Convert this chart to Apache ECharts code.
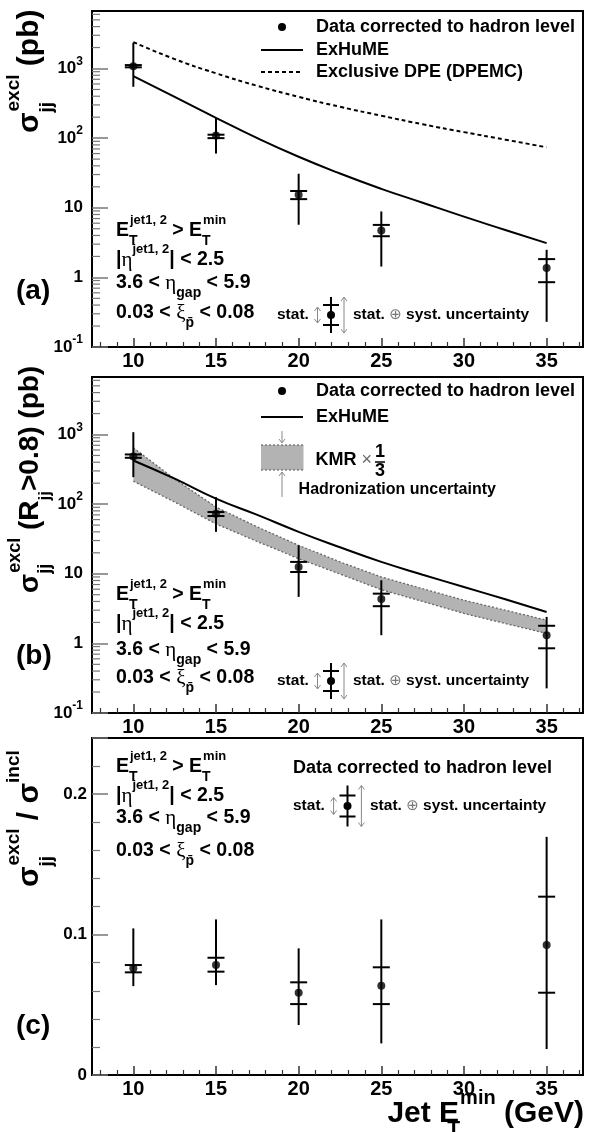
<!DOCTYPE html>
<html><head><meta charset="utf-8">
<script src="https://cdn.jsdelivr.net/npm/echarts@6/dist/echarts.min.js"></script>
<style>html,body{margin:0;padding:0;background:#fff}#c{width:589px;height:1132px}</style>
</head><body><div id="c"></div><script>
// ---------- data ----------
const ET = [10, 15, 20, 25, 35];
// panel (a)
const sigA        = [1080, 109, 15.4, 4.72, 1.36];
const sigAStatLo  = [1040, 100, 13.3, 3.9, 0.853];
const sigAStatHi  = [1120, 112, 17.4, 5.67, 1.83];
const sigATotLo   = [546, 60, 5.7, 1.43, 0.23];
const sigATotHi   = [2340, 195, 30.8, 8.85, 2.49];
// panel (b)
const sigB        = [484, 73, 12.5, 4.35, 1.31];
const sigBStatLo  = [463, 67.5, 10.6, 3.42, 0.85];
const sigBStatHi  = [517, 77, 14.8, 5.18, 1.79];
const sigBTotLo   = [244, 40, 4.65, 1.31, 0.226];
const sigBTotHi   = [1080, 126, 25.6, 8.07, 2.4];
// panel (c)
const ratio        = [0.076, 0.0783, 0.0586, 0.0636, 0.0925];
const ratioStatLo  = [0.0731, 0.0736, 0.0505, 0.0505, 0.0586];
const ratioStatHi  = [0.0783, 0.0835, 0.066, 0.0767, 0.127];
const ratioTotLo   = [0.0633, 0.064, 0.0356, 0.0225, 0.0185];
const ratioTotHi   = [0.1044, 0.1108, 0.0902, 0.1108, 0.1696];
// theory curves
const curveET = [10, 12.5, 15, 17.5, 20, 22.5, 25, 27.5, 30, 32.5, 35];
const exhumeA = [780, 391, 196, 100, 54, 31, 18.7, 11.8, 7.45, 4.8, 3.1];
const dpemcA  = [2400, 1365, 853, 564, 391, 282, 210, 158, 122, 95, 74];
const exhumeB = [424, 232, 120, 70, 40, 24, 14.8, 9.7, 6.45, 4.3, 2.83];
const kmrHi   = [644, 230, 91, 47, 25.6, 14.8, 9.0, 6.1, 4.17, 3.0, 2.15];
const kmrLo   = [214, 107, 52, 29, 16.5, 9.9, 5.9, 4.0, 2.69, 1.93, 1.39];
// ticks
const xMajorTicks = [10, 15, 20, 25, 30, 35];
const xMinorTicks = [8, 9, 11, 12, 13, 14, 16, 17, 18, 19, 21, 22, 23, 24, 26, 27, 28, 29, 31, 32, 33, 34, 36, 37];
const logMinorTicks = [0.2, 0.3, 0.4, 0.5, 0.6, 0.7, 0.8, 0.9, 2, 3, 4, 5, 6, 7, 8, 9,
  20, 30, 40, 50, 60, 70, 80, 90, 200, 300, 400, 500, 600, 700, 800, 900, 2000, 3000, 4000, 5000, 6000];
const ratioTickLabels = {0: '0', 0.1: '0.1', 0.2: '0.2'};

// ---------- helpers ----------
const F = '"Liberation Sans", Arial, Helvetica, sans-serif';
const GF = '"Liberation Serif", "DejaVu Serif", serif';
const X_MIN = 7.5, X_MAX = 37.2;

const chart = echarts.init(document.getElementById('c'), null, {renderer: 'canvas'});

function errData(lo1, hi1, lo2, hi2) { return ET.map((x, i) => [x, lo1[i], hi1[i], lo2[i], hi2[i]]); }
function errRender(params, api) {
  const x = api.value(0);
  const s1 = api.coord([x, api.value(1)]), s2 = api.coord([x, api.value(2)]);
  const t1 = api.coord([x, api.value(3)]), t2 = api.coord([x, api.value(4)]);
  const hw = 8.5, st = {stroke: '#000', lineWidth: 2};
  return {type: 'group', children: [
    {type: 'line', shape: {x1: t1[0], y1: t1[1], x2: t2[0], y2: t2[1]}, style: st},
    {type: 'line', shape: {x1: s1[0] - hw, y1: s1[1], x2: s1[0] + hw, y2: s1[1]}, style: st},
    {type: 'line', shape: {x1: s2[0] - hw, y1: s2[1], x2: s2[0] + hw, y2: s2[1]}, style: st}
  ]};
}
function minorRender(params, api) {
  const c = api.coord([api.value(0), api.value(1)]);
  return {type: 'line', shape: {x1: c[0], y1: c[1], x2: c[0] + 8, y2: c[1]}, style: {stroke: '#777', lineWidth: 1.2}};
}
function bandRender(params, api) {
  if (params.dataIndex !== 0) return null;
  const top = curveET.map((x, i) => api.coord([x, kmrHi[i]]));
  const bot = curveET.map((x, i) => api.coord([x, kmrLo[i]])).reverse();
  return {type: 'polygon', shape: {points: top.concat(bot)}, style: {fill: '#b3b3b3', stroke: null}};
}
function xAxes(gi) {
  return [
    {type: 'value', gridIndex: gi, position: 'bottom', min: X_MIN, max: X_MAX,
      axisLine: {show: false}, splitLine: {show: false},
      axisTick: {show: true, inside: true, length: 9, customValues: xMajorTicks, lineStyle: {color: '#333', width: 1.5}},
      axisLabel: {show: true, customValues: xMajorTicks, margin: 4, fontSize: 20, fontWeight: 'bold', color: '#000', fontFamily: F}},
    {type: 'value', gridIndex: gi, position: 'bottom', min: X_MIN, max: X_MAX,
      axisLine: {show: false}, splitLine: {show: false},
      axisTick: {show: true, inside: true, length: 5, customValues: xMinorTicks, lineStyle: {color: '#333', width: 1.2}},
      axisLabel: {show: false}}
  ];
}
function logFmt(v) {
  const e = Math.round(Math.log10(v));
  if (e === 0) return '{b|1}';
  if (e === 1) return '{b|10}';
  return '{b|10}{s|' + e + '}';
}
function logY(gi) {
  return {type: 'log', gridIndex: gi, logBase: 10, min: 0.1, max: 6700,
    axisLine: {show: false}, splitLine: {show: false},
    axisTick: {show: true, inside: true, length: 16, lineStyle: {color: '#777', width: 1.5}},
    axisLabel: {margin: 9, formatter: logFmt, showMaxLabel: false,
      rich: {b: {fontSize: 17, fontWeight: 'bold', fontFamily: F, color: '#000', lineHeight: 26, verticalAlign: 'middle'},
             s: {fontSize: 12, fontWeight: 'bold', fontFamily: F, color: '#000', lineHeight: 12, verticalAlign: 'top'}}}};
}

// rich styles for annotation text
const R = {
  m:   {fontSize: 18, fontWeight: 'bold', fontFamily: F, lineHeight: 34, verticalAlign: 'middle', fill: '#000'},
  c:   {fontSize: 19.5, fontWeight: 'bold', fontFamily: F, lineHeight: 34, verticalAlign: 'middle', fill: '#000'},
  g:   {fontSize: 21, fontFamily: GF, lineHeight: 34, verticalAlign: 'middle', fill: '#000'},
  sp:  {fontSize: 13, fontWeight: 'bold', fontFamily: F, lineHeight: 20, verticalAlign: 'top', fill: '#000'},
  sb:  {fontSize: 14, fontWeight: 'bold', fontFamily: F, lineHeight: 19, verticalAlign: 'bottom', fill: '#000'},
  sbz: {fontSize: 14, fontWeight: 'bold', fontFamily: F, lineHeight: 19, verticalAlign: 'bottom', width: 1, fill: '#000'},
  s:   {fontSize: 15.5, fontWeight: 'bold', fontFamily: F, lineHeight: 20, verticalAlign: 'middle', fill: '#000'},
  h:   {fontSize: 16, fontWeight: 'bold', fontFamily: F, lineHeight: 20, verticalAlign: 'middle', fill: '#000'},
  o:   {fontSize: 15, fontFamily: '"DejaVu Sans", sans-serif', lineHeight: 20, verticalAlign: 'middle', fill: '#777'},
  k:   {fontSize: 18, fontWeight: 'bold', fontFamily: F, lineHeight: 24, verticalAlign: 'middle', fill: '#000'},
  kx:  {fontSize: 18, fontFamily: F, lineHeight: 24, verticalAlign: 'middle', fill: '#666'}
};
const RT = {
  M:   {fontSize: 30, fontWeight: 'bold', fontFamily: F, lineHeight: 52, verticalAlign: 'middle', fill: '#000'},
  SP:  {fontSize: 19, fontWeight: 'bold', fontFamily: F, lineHeight: 30, verticalAlign: 'top', fill: '#000'},
  SB:  {fontSize: 19, fontWeight: 'bold', fontFamily: F, lineHeight: 22, verticalAlign: 'bottom', fill: '#000'},
  SBZ: {fontSize: 19, fontWeight: 'bold', fontFamily: F, lineHeight: 22, verticalAlign: 'bottom', width: 1, fill: '#000'},
  XSB: {fontSize: 21, fontWeight: 'bold', fontFamily: F, lineHeight: 38, verticalAlign: 'bottom', width: 1, fill: '#000'},
  XSP: {fontSize: 20, fontWeight: 'bold', fontFamily: F, lineHeight: 30, verticalAlign: 'top', fill: '#000'}
};
const RT2 = {
  M:   {fontSize: 28, fontWeight: 'bold', fontFamily: F, lineHeight: 48, verticalAlign: 'middle', fill: '#000'},
  SP:  {fontSize: 18, fontWeight: 'bold', fontFamily: F, lineHeight: 28, verticalAlign: 'top', fill: '#000'},
  SB:  {fontSize: 17, fontWeight: 'bold', fontFamily: F, lineHeight: 20, verticalAlign: 'bottom', fill: '#000'},
  SBZ: {fontSize: 18, fontWeight: 'bold', fontFamily: F, lineHeight: 20, verticalAlign: 'bottom', width: 1, fill: '#000'}
};
function T(x, y, text, rich, opt) {
  opt = opt || {};
  return {type: 'text', x: x, y: y, rotation: opt.rot || 0, silent: true, z: 100,
    style: {text: text, rich: rich, fill: '#000', fontFamily: F, fontWeight: 'bold', fontSize: opt.size || 18,
      align: opt.align || 'left', verticalAlign: 'middle'}};
}
function L(x1, y1, x2, y2, color, w, dash) {
  return {type: 'line', silent: true, z: 100, shape: {x1, y1, x2, y2}, style: {stroke: color, lineWidth: w, lineDash: dash || null}};
}
function dot(x, y) { return {type: 'circle', silent: true, z: 100, shape: {cx: x, cy: y, r: 4}, style: {fill: '#000'}}; }
function arrow(x, yTop, yBot, headTop, headBot, color) {
  const els = [L(x, yTop, x, yBot, color, 1)];
  const h = 3;
  if (headTop) els.push({type: 'polyline', silent: true, z: 100, shape: {points: [[x - h, yTop + 4], [x, yTop], [x + h, yTop + 4]]}, style: {stroke: color, lineWidth: 1, fill: 'none'}});
  if (headBot) els.push({type: 'polyline', silent: true, z: 100, shape: {points: [[x - h, yBot - 4], [x, yBot], [x + h, yBot - 4]]}, style: {stroke: color, lineWidth: 1, fill: 'none'}});
  return els;
}
function statLegend(xs, xa1, xb, xa2, xt, yc, tot, st) {
  return [
    T(xs, yc, '{s|stat.}', R),
    ...arrow(xa1, yc - st + 2, yc + st - 2, true, true, '#888'),
    L(xb, yc - tot, xb, yc + tot, '#000', 2),
    L(xb - 8, yc - st, xb + 8, yc - st, '#000', 2),
    L(xb - 8, yc + st, xb + 8, yc + st, '#000', 2),
    dot(xb, yc),
    ...arrow(xa2, yc - tot, yc + tot, true, true, '#888'),
    T(xt, yc, '{s|stat. }{o|⊕}{s| syst. uncertainty}', R)
  ];
}
function condText(x, ys) {
  return [
    T(x, ys[0], '{c|E}{sbz|T}{sp|jet1, 2}{c| > E}{sbz|T}{sp|min}', R),
    T(x, ys[1], '{c||}{g|η}{sp|jet1, 2}{c|| < 2.5}', R),
    T(x, ys[2], '{c|3.6 < }{g|η}{sb|gap}{c| < 5.9}', R),
    T(x, ys[3], '{c|0.03 < }{g|ξ}{sb|p̄}{c| < 0.08}', R)
  ];
}

const graphics = [].concat(
  // panel (a) legend
  [dot(282, 27), T(316, 27, '{m|Data corrected to hadron level}', R),
   L(261, 50, 303, 50, '#000', 2), T(316, 50, '{m|ExHuME}', R),
   L(261, 72, 303, 72, '#000', 2, [4, 3]), T(316, 72, '{m|Exclusive DPE (DPEMC)}', R)],
  condText(116, [231, 260, 283, 313]),
  statLegend(277, 317.5, 331, 344, 353, 315, 18, 10),
  [T(16, 291, '(a)', null, {size: 28})],
  [T(30, 133, '{M|σ}{SBZ|jj}{SP|excl}{M| (pb)}', RT, {rot: Math.PI / 2})],
  // panel (b) legend
  [dot(282, 391), T(316, 391, '{m|Data corrected to hadron level}', R),
   L(261, 417, 303, 417, '#000', 2),  T(316, 417, '{m|ExHuME}', R),
   {type: 'rect', silent: true, z: 100, shape: {x: 261, y: 445, width: 42.5, height: 25}, style: {fill: '#b3b3b3'}},
   L(261, 445, 303.5, 445, '#555', 1.2, [2, 2]), L(261, 470, 303.5, 470, '#555', 1.2, [2, 2])],
  arrow(282, 431, 443, false, true, '#888'),
  arrow(282, 472, 497, true, false, '#888'),
  [T(315.5, 460, '{k|KMR }{kx|×}', R),
   T(380, 452, '{k|1}', R, {align: 'center'}),
   L(375, 462, 385, 462, '#000', 1.5),
   T(380, 471, '{k|3}', R, {align: 'center'}),
   T(298.6, 490, '{h|Hadronization uncertainty}', R)],
  condText(116, [595, 624, 650, 678]),
  statLegend(277, 317.5, 331, 344, 353, 681, 18, 10),
  [T(16, 656, '(b)', null, {size: 28})],
  [T(30, 593, '{M|σ}{SBZ|jj}{SP|excl}{M| (R}{SB|jj}{M|>0.8) (pb)}', RT2, {rot: Math.PI / 2})],
  // panel (c)
  condText(116, [767, 796, 818, 851]),
  [T(293, 768, '{m|Data corrected to hadron level}', R)],
  statLegend(293, 333.6, 347.5, 361.4, 370, 806, 20.5, 10.5),
  [T(16, 1026, '(c)', null, {size: 28})],
  [T(30, 887, '{M|σ}{SBZ|jj}{SP|excl}{M| / σ}{SP|incl}', RT, {rot: Math.PI / 2})],
  [T(584, 1114, '{M|Jet E}{XSB|T}{XSP|min}{M| (GeV)}', RT, {align: 'right'})]
);

const option = {
  backgroundColor: '#fff',
  animation: false,
  grid: [
    {left: 92, top: 11, width: 491, height: 336, show: true, borderColor: '#000', borderWidth: 2, backgroundColor: '#fff'},
    {left: 92, top: 377, width: 491, height: 336, show: true, borderColor: '#000', borderWidth: 2, backgroundColor: '#fff'},
    {left: 92, top: 738, width: 491, height: 337, show: true, borderColor: '#000', borderWidth: 2, backgroundColor: '#fff'}
  ],
  xAxis: [].concat(xAxes(0), xAxes(1), xAxes(2)),
  yAxis: [
    logY(0), logY(1),
    {type: 'value', gridIndex: 2, min: 0, max: 0.24, interval: 0.1,
      axisLine: {show: false}, splitLine: {show: false},
      axisTick: {show: true, inside: true, length: 16, lineStyle: {color: '#777', width: 1.5}},
      minorTick: {show: true, splitNumber: 5, length: 8, lineStyle: {color: '#777', width: 1.2}},
      axisLabel: {margin: 5, showMaxLabel: false, fontSize: 17, fontWeight: 'bold', color: '#000', fontFamily: F,
        formatter: v => ratioTickLabels[Math.round(v * 10) / 10] || ''}}
  ],
  series: [
    // (a)
    {type: 'custom', xAxisIndex: 0, yAxisIndex: 0, data: logMinorTicks.map(v => [X_MIN, v]), renderItem: minorRender, silent: true, z: 1},
    {type: 'line', xAxisIndex: 0, yAxisIndex: 0, data: curveET.map((x, i) => [x, dpemcA[i]]), smooth: true, showSymbol: false,
      lineStyle: {color: '#000', width: 2, type: [4, 3]}, silent: true, z: 3},
    {type: 'line', xAxisIndex: 0, yAxisIndex: 0, data: curveET.map((x, i) => [x, exhumeA[i]]), smooth: true, showSymbol: false,
      lineStyle: {color: '#000', width: 2}, silent: true, z: 3},
    {type: 'custom', xAxisIndex: 0, yAxisIndex: 0, data: errData(sigAStatLo, sigAStatHi, sigATotLo, sigATotHi), renderItem: errRender, z: 4},
    {type: 'scatter', xAxisIndex: 0, yAxisIndex: 0, data: ET.map((x, i) => [x, sigA[i]]), symbolSize: 8, itemStyle: {color: '#000'}, z: 5},
    // (b)
    {type: 'custom', xAxisIndex: 2, yAxisIndex: 1, data: logMinorTicks.map(v => [X_MIN, v]), renderItem: minorRender, silent: true, z: 1},
    {type: 'custom', xAxisIndex: 2, yAxisIndex: 1, data: curveET.map((x, i) => [x, kmrLo[i], kmrHi[i]]), renderItem: bandRender, silent: true, z: 2},
    {type: 'line', xAxisIndex: 2, yAxisIndex: 1, data: curveET.map((x, i) => [x, kmrHi[i]]), showSymbol: false,
      lineStyle: {color: '#666', width: 1.3, type: [2, 2]}, silent: true, z: 3},
    {type: 'line', xAxisIndex: 2, yAxisIndex: 1, data: curveET.map((x, i) => [x, kmrLo[i]]), showSymbol: false,
      lineStyle: {color: '#666', width: 1.3, type: [2, 2]}, silent: true, z: 3},
    {type: 'line', xAxisIndex: 2, yAxisIndex: 1, data: curveET.map((x, i) => [x, exhumeB[i]]), smooth: true, showSymbol: false,
      lineStyle: {color: '#000', width: 2}, silent: true, z: 3},
    {type: 'custom', xAxisIndex: 2, yAxisIndex: 1, data: errData(sigBStatLo, sigBStatHi, sigBTotLo, sigBTotHi), renderItem: errRender, z: 4},
    {type: 'scatter', xAxisIndex: 2, yAxisIndex: 1, data: ET.map((x, i) => [x, sigB[i]]), symbolSize: 8, itemStyle: {color: '#000'}, z: 5},
    // (c)
    {type: 'custom', xAxisIndex: 4, yAxisIndex: 2, data: errData(ratioStatLo, ratioStatHi, ratioTotLo, ratioTotHi), renderItem: errRender, z: 4},
    {type: 'scatter', xAxisIndex: 4, yAxisIndex: 2, data: ET.map((x, i) => [x, ratio[i]]), symbolSize: 8, itemStyle: {color: '#000'}, z: 5}
  ],
  graphic: {elements: graphics}
};
chart.setOption(option);
</script></body></html>
